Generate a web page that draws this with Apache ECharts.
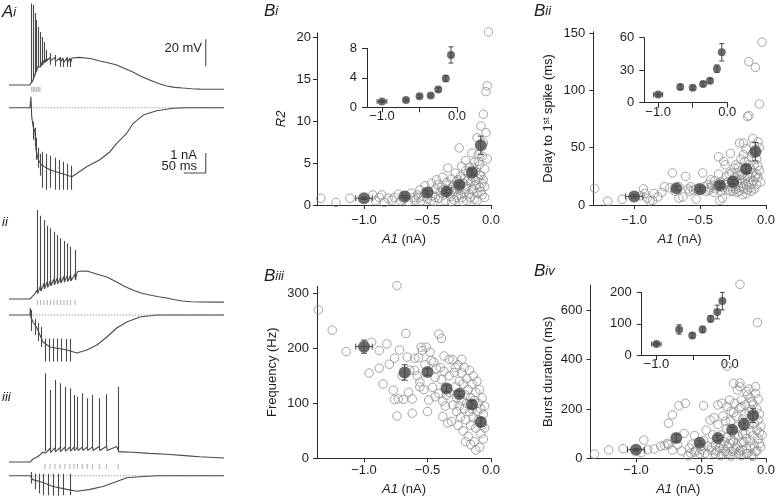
<!DOCTYPE html>
<html><head><meta charset="utf-8">
<script src="https://cdn.jsdelivr.net/npm/echarts@6/dist/echarts.min.js"></script>
<style>html,body{margin:0;padding:0;background:#fff}#c{width:778px;height:501px}</style>
</head><body><div id="c"></div>
<script>
const F = "'Liberation Sans', Arial, Helvetica, sans-serif";
const AX = '#2a2a2a', TX = '#1e1e1e', TR = '#4a4a4a', OPEN = '#8f8f8f', FILL = '#474747', MARK = '#9a9a9a';

// ================= A: recordings (time ms, membrane potential mV, current nA) =================
const aiV = [[0,-65],[47,-65],[50,-64.5],[51.6,-63],[53,-63.5],[55.2,-61],[56.5,-61.3],[59,-57],[60.5,-57.6],[62.9,-54],[64.2,-55.4],[66.6,-51],[68,-52.4],[70.4,-50],[71.8,-51.7],[75,-48],[76.4,-50.2],[79.5,-46.5],[81,-48.7],[85.6,-45],[87,-47],[93,-44.5],[94.5,-47],[104.5,-44.5],[106,-47.5],[115.8,-45],[117.3,-48],[122.7,-45],[124.2,-48.5],[131.7,-45],[133.2,-48.5],[138.5,-45],[140,-48.5],[143,-45],[160,-44.5],[185,-45.3],[206.6,-47.2],[225,-48.5],[245,-50.2],[262,-52.6],[281.5,-55.4],[300,-58.5],[320,-61.3],[340,-63.8],[358.7,-65.7],[377,-66.7],[395,-67.2],[415,-67.7],[433.6,-68],[460,-68.1],[489,-68.1]];
const aiSpikes = [[51.6,-63.5,-4.5],[55.2,-61.3,-5.7],[59,-57.6,-11.7],[62.9,-55.4,-16.9],[66.6,-52.4,-22],[70.4,-51.7,-25.7],[75,-50.2,-29.4],[79.5,-48.7,-33.1],[85.6,-48,-39.1],[93,-50,-41.3],[104.5,-51,-42.8],[115.8,-51.5,-44.3],[122.7,-51.7,-45.5],[131.7,-51.7,-44.3],[138.5,-51.7,-45.5]];
const aiMarks = [51.6,55.2,59,62.9,66.6,70.4];
const aiI = [[0,0],[47.7,0],[49,0.1],[50,0.55],[51.6,-0.45],[55,-0.95],[59,-1.2],[61.3,-2.1],[66.6,-2.6],[74,-2.87],[93,-3.1],[143,-3.45],[176.6,-2.95],[206.6,-2.6],[229.7,-2.2],[245,-1.78],[267.6,-1.28],[282.7,-0.78],[305.4,-0.37],[335.8,-0.15],[373.6,-0.03],[400,0],[489,0]];
const aiIArt = [[55.2,-0.7,-1.6],[59,-1.0,-1.9],[62.9,-1.5,-2.6],[66.6,-2.0,-3.0],[70.4,-2.3,-3.4],[76.6,-2.2,-4.0],[85.7,-2.3,-4.1],[94.8,-2.4,-4.0],[104.6,-2.5,-4.1],[114.4,-2.6,-4.1],[123.5,-2.7,-4.1],[133.5,-2.8,-4.1],[141,-2.9,-4.1]];

const iiV = [[0,-65],[47.7,-65],[52.3,-63.5],[59,-61],[63.6,-58.5],[65.5,-60.8],[71.9,-55],[73,-59],[79.5,-53.5],[80.7,-57.5],[86.9,-52.2],[88.1,-56.3],[94.6,-51],[95.8,-55.2],[102.2,-50.2],[103.4,-54.5],[109.7,-49.5],[110.9,-53.7],[117.4,-48.8],[118.6,-53],[125,-48.2],[126.2,-52.5],[132.5,-47.7],[133.7,-52],[140.2,-47.2],[141.4,-51.5],[150,-46.5],[151.2,-51],[155,-45],[160,-44.5],[177,-44.3],[190,-45.5],[206.6,-47.2],[222.5,-48.7],[245,-52.4],[262,-55.5],[281.5,-58.3],[300,-60.5],[320,-62],[340,-63.3],[358.7,-64.3],[377,-65.5],[395,-66.5],[415,-67],[433.6,-67.2],[489,-67.3]];
const iiSpikes = [[64.3,-60.8,0.9],[71.9,-59,-3.3],[79.5,-57.5,-6.5],[86.9,-56.3,-10.7],[94.6,-55.2,-12.6],[102.2,-54.5,-15.1],[109.7,-53.7,-17.6],[117.4,-53,-20],[125,-52.5,-22],[132.5,-52,-23.7],[140.2,-51.5,-26.3],[150,-51,-28.7]];
const iiMarks = [64.3,71.9,79.5,86.9,94.6,102.2,109.7,117.4,125,132.5,140.2,150];
const iiI = [[0,0],[47.7,0],[48.5,0.35],[49.5,-0.1],[54.5,-0.35],[63.6,-0.65],[70.4,-1],[77.3,-1.35],[93,-1.6],[131.8,-1.75],[154.5,-1.9],[177,-1.75],[200,-1.5],[222.5,-1.1],[245,-0.65],[268,-0.35],[297.4,-0.1],[336,0],[489,0]];
const iiIArt = [[51.6,0.25,-0.8],[59.1,-0.2,-1.0],[66.6,-0.4,-1.3],[74.4,-0.6,-1.6],[81.9,-1.17,-2.33],[91.6,-1.17,-2.33],[100.7,-1.17,-2.33],[109.8,-1.17,-2.33],[119.8,-1.17,-2.33],[129.6,-1.2,-2.33],[138.7,-1.2,-2.33]];

const iiiV = [[0,-65],[47.7,-65],[54.5,-62.8],[63.6,-61.3],[70.4,-59.8],[77.3,-57.6],[81.8,-56.5],[83,-58.5],[93.2,-55],[94.4,-58],[104.6,-54.5],[105.8,-57.5],[115.9,-54.3],[117.1,-57.3],[127.3,-54],[128.5,-57],[138.6,-54],[139.8,-57],[147.7,-54],[148.9,-56.5],[156,-54],[157.2,-56.5],[166.5,-54],[167.7,-56.5],[177.8,-54],[179,-56.5],[190,-53.8],[191.2,-56.5],[205.3,-53.5],[206.5,-56.5],[222,-53.3],[223.2,-56.5],[245,-53.5],[248.5,-53.5],[249.7,-57.5],[260,-57.5],[281.5,-57.8],[320,-58.6],[358.7,-59.3],[400,-60.3],[433.6,-61.1],[489,-62]];
const iiiSpikes = [[81.8,-57,0.7],[93.2,-56,-11.7],[104.6,-55.5,-4.3],[115.9,-55,-6.7],[127.3,-55,-9.2],[138.6,-55,-10.4],[147.7,-54.5,-15.4],[156,-54.5,-16.7],[166.5,-54.5,-14.1],[177.8,-54.5,-17.8],[190,-54.5,-15.4],[205.3,-54.5,-17.8],[222,-54,-14.9],[248.5,-57,-9.2]];
const iiiMarks = [81.8,93.2,104.6,115.9,127.3,138.6,147.7,156,166.5,177.8,190,205.3,222,248.5];
const iiiI = [[0,0],[47.7,0],[50,0.1],[54.5,-0.2],[77.3,-0.35],[100,-0.55],[131.8,-0.7],[154.5,-0.8],[184,-0.7],[213.7,-0.55],[245,-0.3],[268,-0.1],[297.4,-0.05],[336,0],[489,0]];
const iiiIArt = [[51.6,0.2,-0.4],[59.1,0.1,-0.7],[68.9,0.1,-0.9],[78,0.1,-1.0],[89.4,0.1,-1.0],[100.7,0.1,-1.03],[112.1,0.1,-1.03],[123.5,0.1,-1.0],[138.6,0.1,-1.0]];

const scaleBar = {mV: 20, ms: 50, nA: 1};

// ================= B: A1 dependence =================
const meanA1 = [-1.0,-0.68,-0.5,-0.35,-0.25,-0.15,-0.08];
const meanA1iv = [-1.0,-0.69,-0.51,-0.37,-0.26,-0.17,-0.1];
const meanA1Err = [0.065,0,0,0,0,0,0];
const biR2 = [0.8,1.0,1.5,1.6,2.4,3.9,7.1];
const biR2Err = [0.15,0.15,0.2,0.2,0.25,0.4,1.1];
const biiDelay = [7.5,14.5,13.7,17.3,20.3,31.3,46.5];
const biiDelayErr = [1.5,2,1.5,2,2,3.5,8];
const biiiFreq = [203,156,157,127,117,98,66];
const biiiFreqErr = [12,14,6,6,5,7,8];
const bivDur = [35,82,63,82,116,138,173];
const bivDurErr = [5,15,8,10,10,22,28];

const biPts = [[-1.34,0.8],[-1.22,0.3],[-1.11,0.8],[-0.93,1.2],[-0.91,0.5],[-0.88,0.9],[-0.86,1.2],[-0.84,0.3],[-0.81,0.8],[-0.78,0.6],[-0.76,0.9],[-0.73,1.3],[-0.71,0.5],[-0.69,0.7],[-0.67,1.1],[-0.65,0.4],[-0.63,1.4],[-0.61,0.9],[-0.6,0.6],[-0.58,1.2],[-0.57,0.9],[-0.56,1.8],[-0.55,0.5],[-0.53,1.0],[-0.52,2.3],[-0.52,1.4],[-0.5,0.7],[-0.49,1.6],[-0.47,2.6],[-0.47,0.5],[-0.46,1.1],[-0.45,0.4],[-0.44,1.9],[-0.44,0.9],[-0.43,3.0],[-0.42,2.4],[-0.41,0.8],[-0.4,1.5],[-0.39,2.1],[-0.38,3.3],[-0.38,1.8],[-0.37,1.2],[-0.36,0.5],[-0.35,2.7],[-0.35,1.6],[-0.34,4.4],[-0.33,1.9],[-0.33,2.4],[-0.32,1.0],[-0.31,3.1],[-0.31,0.4],[-0.3,2.3],[-0.29,0.6],[-0.29,1.6],[-0.28,3.8],[-0.28,2.0],[-0.27,2.8],[-0.27,0.9],[-0.26,1.2],[-0.26,3.0],[-0.25,6.8],[-0.25,2.0],[-0.24,3.4],[-0.24,1.3],[-0.23,0.9],[-0.23,4.6],[-0.22,2.6],[-0.22,0.4],[-0.21,1.5],[-0.21,3.1],[-0.2,5.3],[-0.2,1.9],[-0.2,4.1],[-0.19,0.5],[-0.19,2.2],[-0.18,3.8],[-0.18,2.9],[-0.17,1.3],[-0.17,4.5],[-0.16,2.8],[-0.16,0.9],[-0.16,3.6],[-0.15,6.2],[-0.15,1.8],[-0.14,3.3],[-0.14,1.9],[-0.14,4.4],[-0.13,0.7],[-0.13,5.1],[-0.12,2.4],[-0.12,4.0],[-0.12,2.9],[-0.11,8.0],[-0.11,1.4],[-0.11,0.5],[-0.1,3.1],[-0.1,6.0],[-0.1,5.2],[-0.09,2.1],[-0.09,4.8],[-0.09,3.6],[-0.08,9.4],[-0.08,3.5],[-0.08,1.6],[-0.07,5.8],[-0.07,1.2],[-0.07,2.6],[-0.06,10.8],[-0.06,3.0],[-0.06,7.4],[-0.05,4.3],[-0.05,2.2],[-0.05,0.9],[-0.04,8.6],[-0.04,13.5],[-0.03,14.2],[-0.03,5.5],[-0.02,20.6]];

const biiPts = [[-1.30,14.5],[-1.20,3.5],[-1.09,5],[-0.95,8],[-0.93,14],[-0.92,10],[-0.9,6],[-0.88,3.5],[-0.86,4],[-0.85,10],[-0.82,7],[-0.79,11],[-0.77,16],[-0.73,15],[-0.71,28],[-0.69,12],[-0.66,16],[-0.66,6],[-0.63,7],[-0.61,25],[-0.59,14],[-0.58,12],[-0.57,16],[-0.55,13],[-0.53,5],[-0.53,14],[-0.51,15],[-0.49,13],[-0.48,28],[-0.47,16],[-0.45,12],[-0.44,18],[-0.43,15],[-0.43,13],[-0.42,22],[-0.41,17],[-0.4,11],[-0.39,21],[-0.38,14],[-0.37,16],[-0.36,42],[-0.36,27],[-0.35,4],[-0.35,20],[-0.34,12],[-0.33,6],[-0.33,15],[-0.32,38],[-0.31,35],[-0.31,18],[-0.30,25],[-0.3,18],[-0.29,13],[-0.29,20],[-0.28,27],[-0.28,16],[-0.27,45],[-0.27,12],[-0.26,16],[-0.26,21],[-0.26,28],[-0.25,22],[-0.25,12],[-0.24,32],[-0.24,18],[-0.23,24],[-0.23,14],[-0.23,35],[-0.22,20],[-0.22,28],[-0.22,11],[-0.21,16],[-0.21,33],[-0.20,54],[-0.20,22],[-0.20,12],[-0.19,16],[-0.19,26],[-0.19,40],[-0.18,27],[-0.18,19],[-0.18,9],[-0.17,44],[-0.17,54],[-0.17,14],[-0.16,23],[-0.16,32],[-0.16,38],[-0.15,49],[-0.15,18],[-0.15,10],[-0.14,77],[-0.14,25],[-0.14,13],[-0.13,125],[-0.13,78],[-0.13,20],[-0.13,35],[-0.12,15],[-0.12,32],[-0.12,24],[-0.11,42],[-0.11,18],[-0.11,12],[-0.10,58],[-0.10,21],[-0.10,28],[-0.1,45],[-0.09,52],[-0.09,14],[-0.09,35],[-0.08,120],[-0.08,25],[-0.08,48],[-0.07,27],[-0.07,40],[-0.07,18],[-0.06,34],[-0.06,24],[-0.06,55],[-0.05,88],[-0.05,50],[-0.05,30],[-0.04,20],[-0.03,142]];

const biiiPts = [[-1.36,270],[-1.25,233],[-1.14,194],[-0.96,155],[-0.94,211],[-0.88,196],[-0.88,164],[-0.85,135],[-0.82,208],[-0.80,171],[-0.77,124],[-0.76,182],[-0.76,107],[-0.74,314],[-0.74,77],[-0.72,197],[-0.73,108],[-0.7,150],[-0.67,227],[-0.69,107],[-0.66,184],[-0.65,120],[-0.64,160],[-0.62,108],[-0.62,82],[-0.60,182],[-0.60,160],[-0.58,150],[-0.57,183],[-0.56,139],[-0.56,130],[-0.55,202],[-0.54,196],[-0.53,125],[-0.52,170],[-0.51,202],[-0.49,106],[-0.50,85],[-0.48,193],[-0.47,178],[-0.46,129],[-0.45,175],[-0.44,112],[-0.44,147],[-0.43,163],[-0.41,226],[-0.41,118],[-0.39,218],[-0.40,165],[-0.39,143],[-0.38,104],[-0.38,76],[-0.37,186],[-0.37,158],[-0.36,95],[-0.35,115],[-0.34,64],[-0.33,180],[-0.33,150],[-0.33,120],[-0.30,179],[-0.31,67],[-0.30,97],[-0.29,156],[-0.28,130],[-0.28,165],[-0.27,110],[-0.27,85],[-0.26,170],[-0.26,60],[-0.25,140],[-0.25,95],[-0.24,120],[-0.24,75],[-0.23,155],[-0.23,105],[-0.23,180],[-0.22,135],[-0.22,50],[-0.21,90],[-0.21,165],[-0.20,115],[-0.20,70],[-0.2,30],[-0.19,145],[-0.19,100],[-0.18,125],[-0.18,40],[-0.17,85],[-0.17,160],[-0.16,110],[-0.16,60],[-0.16,25],[-0.15,135],[-0.15,90],[-0.14,75],[-0.14,150],[-0.13,105],[-0.13,30],[-0.12,120],[-0.12,55],[-0.12,15],[-0.11,85],[-0.11,140],[-0.10,70],[-0.10,100],[-0.09,20],[-0.09,125],[-0.08,45],[-0.08,90],[-0.07,60],[-0.07,110],[-0.06,35],[-0.06,80],[-0.05,55],[-0.05,95]];

const bivPts = [[-1.32,17],[-1.21,34],[-1.10,39],[-0.96,23],[-0.94,74],[-0.91,35],[-0.86,38],[-0.81,49],[-0.78,52],[-0.76,60],[-0.75,142],[-0.75,55],[-0.72,176],[-0.72,33],[-0.68,55],[-0.67,213],[-0.65,30],[-0.63,101],[-0.62,223],[-0.6,10],[-0.59,42],[-0.58,21],[-0.57,57],[-0.55,92],[-0.55,25],[-0.54,33],[-0.51,20],[-0.5,48],[-0.5,35],[-0.48,213],[-0.48,73],[-0.47,20],[-0.46,114],[-0.45,50],[-0.45,15],[-0.43,155],[-0.42,33],[-0.42,45],[-0.41,95],[-0.40,164],[-0.39,19],[-0.39,55],[-0.38,30],[-0.37,137],[-0.37,216],[-0.36,41],[-0.35,95],[-0.35,10],[-0.35,60],[-0.34,19],[-0.34,223],[-0.33,172],[-0.33,40],[-0.32,66],[-0.31,27],[-0.31,150],[-0.30,120],[-0.30,210],[-0.3,20],[-0.3,85],[-0.30,374],[-0.29,46],[-0.28,236],[-0.28,60],[-0.27,152],[-0.27,74],[-0.27,8],[-0.27,190],[-0.26,27],[-0.25,185],[-0.25,35],[-0.25,70],[-0.25,304],[-0.24,95],[-0.24,223],[-0.23,42],[-0.23,15],[-0.23,170],[-0.22,277],[-0.22,128],[-0.22,50],[-0.21,19],[-0.21,90],[-0.20,305],[-0.20,205],[-0.2,30],[-0.2,290],[-0.20,705],[-0.19,64],[-0.19,236],[-0.19,10],[-0.19,210],[-0.18,159],[-0.18,34],[-0.18,100],[-0.17,65],[-0.16,216],[-0.16,100],[-0.16,180],[-0.15,19],[-0.15,40],[-0.15,80],[-0.15,270],[-0.14,257],[-0.14,20],[-0.13,281],[-0.13,137],[-0.13,190],[-0.12,46],[-0.12,70],[-0.12,110],[-0.12,245],[-0.11,196],[-0.11,230],[-0.11,10],[-0.10,91],[-0.10,8],[-0.1,220],[-0.09,172],[-0.09,50],[-0.09,140],[-0.08,263],[-0.08,27],[-0.08,290],[-0.07,115],[-0.07,30],[-0.07,200],[-0.066,550],[-0.06,155],[-0.06,80],[-0.06,240],[-0.05,104],[-0.05,60],[-0.05,180],[-0.04,47],[-0.04,130],[-0.03,95]];

const xTicks = [-1, -0.5, 0], xInsetLabels = [-1, 0];

// ================= build =================
const grids = [], xAxes = [], yAxes = [], series = [];
function grid(l, t, w, h) { grids.push({left: l, top: t, width: w, height: h}); return grids.length - 1; }
function hidden(gi, x0, x1, y0, y1) {
  xAxes.push({gridIndex: gi, type: 'value', min: x0, max: x1, show: false});
  yAxes.push({gridIndex: gi, type: 'value', min: y0, max: y1, show: false});
}
function trace(gi, data) { series.push({type: 'line', xAxisIndex: gi, yAxisIndex: gi, data, symbol: 'none', showSymbol: false, lineStyle: {color: TR, width: 1.1}, silent: true, z: 3}); }
function segs(gi, arr) { series.push({type: 'lines', coordinateSystem: 'cartesian2d', xAxisIndex: gi, yAxisIndex: gi, data: arr.map(s => ({coords: [[s[0], s[1]], [s[0], s[2]]]})), lineStyle: {color: TR, width: 1.1, opacity: 1}, silent: true, z: 3}); }
function marks(gi, times, level) { series.push({type: 'scatter', xAxisIndex: gi, yAxisIndex: gi, data: times.map(t => [t, level]), symbol: 'rect', symbolSize: [1, 5], itemStyle: {color: MARK}, silent: true, clip: false}); }
function zero(gi) { series.push({type: 'line', xAxisIndex: gi, yAxisIndex: gi, data: [[47, 0], [489, 0]], symbol: 'none', lineStyle: {color: '#a0a0a0', width: 1, type: [1.5, 1.5]}, silent: true, z: 2}); }

const gAiV = grid(9, 0, 215, 99.9); hidden(gAiV, 0, 489, -76, -2);
const gAiI = grid(9, 87.7, 215, 110); hidden(gAiI, 0, 489, -4.5, 1);
const gIiV = grid(9, 204.5, 215, 109.35); hidden(gIiV, 0, 489, -76, 5);
const gIiI = grid(9, 303, 215, 64); hidden(gIiI, 0, 489, -2.6, 0.6);
const gIiiV = grid(9, 367.5, 215, 109.35); hidden(gIiiV, 0, 489, -76, 5);
const gIiiI = grid(9, 468, 215, 34); hidden(gIiiI, 0, 489, -1.3, 0.4);

zero(gAiI); zero(gIiI); zero(gIiiI);
trace(gAiV, aiV); segs(gAiV, aiSpikes); marks(gAiV, aiMarks, -68.3);
trace(gAiI, aiI); segs(gAiI, aiIArt);
trace(gIiV, iiV); segs(gIiV, iiSpikes); marks(gIiV, iiMarks, -67.6);
trace(gIiI, iiI); segs(gIiI, iiIArt);
trace(gIiiV, iiiV); segs(gIiiV, iiiSpikes); marks(gIiiV, iiiMarks, -68.3);
trace(gIiiI, iiiI); segs(gIiiI, iiiIArt);
const sbT = 447.5, sbV0 = -51, sbI0 = -3.265;
trace(gAiV, [[sbT, sbV0], [sbT, sbV0 + scaleBar.mV]]);
trace(gAiI, [[sbT - scaleBar.ms, sbI0], [sbT, sbI0], [sbT, sbI0 + scaleBar.nA]]);

function fmtX(v) { return (v < 0 ? '\u2212' : '') + Math.abs(v).toFixed(1); }
const nameStyle = {fontSize: 13, color: TX, fontFamily: F, rich: {i: {fontSize: 13, fontStyle: 'italic', color: TX, fontFamily: F}, s: {fontSize: 8.5, color: TX, fontFamily: F, verticalAlign: 'top', lineHeight: 11}}};
function axes(gi, xr, yr, yTicks, o) {
  xAxes.push({gridIndex: gi, type: 'value', min: xr[0], max: xr[1],
    axisLine: {show: true, onZero: false, lineStyle: {color: AX, width: 1}},
    axisTick: {show: true, length: o.tick, customValues: xTicks, lineStyle: {color: AX, width: 1}},
    axisLabel: {show: true, customValues: o.inset ? xInsetLabels : xTicks, formatter: fmtX, fontSize: 13, color: TX, fontFamily: F, margin: o.xm},
    splitLine: {show: false}, name: o.xname || '', nameLocation: 'middle', nameGap: o.xg || 0, nameTextStyle: nameStyle});
  yAxes.push({gridIndex: gi, type: 'value', min: yr[0], max: yr[1],
    axisLine: {show: true, onZero: false, lineStyle: {color: AX, width: 1}},
    axisTick: {show: true, length: o.tick, customValues: yTicks, lineStyle: {color: AX, width: 1}},
    axisLabel: {show: true, customValues: yTicks, formatter: v => String(v), fontSize: 13, color: TX, fontFamily: F, margin: o.ym},
    splitLine: {show: false}, name: o.yname || '', nameLocation: 'middle', nameGap: o.yg || 0, nameTextStyle: Object.assign({}, nameStyle, o.yItalic ? {fontStyle: 'italic'} : {})});
}
function cloud(gi, pts) { series.push({type: 'scatter', xAxisIndex: gi, yAxisIndex: gi, data: pts, symbol: 'circle', symbolSize: 8.5, itemStyle: {color: 'rgba(255,255,255,0)', borderColor: OPEN, borderWidth: 1}, clip: false, silent: true, z: 2}); }
function errRender(cap) {
  return function (params, api) {
    const x = api.value(0), y = api.value(1), ex = api.value(2), ey = api.value(3);
    const st = {stroke: FILL, lineWidth: 1}, ch = [];
    if (ex > 0) {
      const a = api.coord([x - ex, y]), b = api.coord([x + ex, y]);
      ch.push({type: 'line', shape: {x1: a[0], y1: a[1], x2: b[0], y2: b[1]}, style: st});
      ch.push({type: 'line', shape: {x1: a[0], y1: a[1] - cap, x2: a[0], y2: a[1] + cap}, style: st});
      ch.push({type: 'line', shape: {x1: b[0], y1: b[1] - cap, x2: b[0], y2: b[1] + cap}, style: st});
    }
    if (ey > 0) {
      const a = api.coord([x, y - ey]), b = api.coord([x, y + ey]);
      ch.push({type: 'line', shape: {x1: a[0], y1: a[1], x2: b[0], y2: b[1]}, style: st});
      ch.push({type: 'line', shape: {x1: a[0] - cap, y1: a[1], x2: a[0] + cap, y2: a[1]}, style: st});
      ch.push({type: 'line', shape: {x1: b[0] - cap, y1: b[1], x2: b[0] + cap, y2: b[1]}, style: st});
    }
    return {type: 'group', children: ch};
  };
}
function means(gi, xs, ys, exs, eys, size, cap) {
  const d = xs.map((x, i) => [x, ys[i], exs[i], eys[i]]);
  series.push({type: 'custom', xAxisIndex: gi, yAxisIndex: gi, data: d, renderItem: errRender(cap), encode: {x: 0, y: 1}, clip: false, silent: true, z: 4});
  series.push({type: 'scatter', xAxisIndex: gi, yAxisIndex: gi, data: d.map(p => [p[0], p[1]]), symbol: 'circle', symbolSize: size, itemStyle: {color: FILL}, clip: false, silent: true, z: 5});
}
const A1name = '{i|A1} (nA)';

const gBi = grid(317, 32.8, 174, 172.2);
axes(gBi, [-1.37, 0], [0, 20.5], [0, 5, 10, 15, 20], {tick: 4, xm: 9, ym: 6, xname: A1name, xg: 28, yname: 'R2', yg: 29, yItalic: true});
cloud(gBi, biPts); means(gBi, meanA1, biR2, meanA1Err, biR2Err, 12, 3);
const gBiIn = grid(367, 48.3, 90, 59);
axes(gBiIn, [-1.2, 0], [0, 8], [0, 4, 8], {tick: 5, xm: 3, ym: 10, inset: true});
means(gBiIn, meanA1, biR2, meanA1Err, biR2Err, 8, 2.5);

const gBii = grid(593.3, 31.8, 175.5, 173.2);
axes(gBii, [-1.31, 0], [0, 151], [0, 50, 100, 150], {tick: 4, xm: 9, ym: 8, xname: A1name, xg: 28, yname: 'Delay to 1{s|st} spike (ms)', yg: 38});
cloud(gBii, biiPts); means(gBii, meanA1, biiDelay, meanA1Err, biiDelayErr, 12, 3);
const gBiiIn = grid(644.3, 37.7, 83, 65);
axes(gBiiIn, [-1.2, 0], [0, 60], [0, 30, 60], {tick: 5, xm: 3, ym: 10, inset: true});
means(gBiiIn, meanA1, biiDelay, meanA1Err, biiDelayErr, 8, 2.5);

const gBiii = grid(317, 286.2, 174, 172.1);
axes(gBiii, [-1.37, 0], [0, 313], [0, 100, 200, 300], {tick: 4, xm: 6, ym: 8, xname: A1name, xg: 25, yname: 'Frequency (Hz)', yg: 38});
cloud(gBiii, biiiPts); means(gBiii, meanA1, biiiFreq, meanA1Err, biiiFreqErr, 12, 3);

const gBiv = grid(590.5, 285.1, 179.5, 173.2);
axes(gBiv, [-1.35, 0], [0, 702], [0, 200, 400, 600], {tick: 4, xm: 6, ym: 8, xname: A1name, xg: 25, yname: 'Burst duration (ms)', yg: 36});
cloud(gBiv, bivPts); means(gBiv, meanA1iv, bivDur, meanA1Err, bivDurErr, 12, 3);
const gBivIn = grid(641.7, 292.7, 88, 62.3);
axes(gBivIn, [-1.2, 0], [0, 200], [0, 100, 200], {tick: 5, xm: 3, ym: 10, inset: true});
means(gBivIn, meanA1iv, bivDur, meanA1Err, bivDurErr, 8, 2.5);

const rich = {a: {fontSize: 17, fontStyle: 'italic', fontFamily: F, fill: TX}, b: {fontSize: 13, fontStyle: 'italic', fontFamily: F, fill: TX}};
function ptxt(t, x, y) { return {type: 'text', x, y, silent: true, style: {text: t, rich, verticalAlign: 'middle', align: 'left'}}; }
function stxt(t, x, y) { return {type: 'text', x, y, silent: true, style: {text: t, fontSize: 13, fontFamily: F, fill: TX, align: 'right', verticalAlign: 'middle'}}; }
const graphic = [
  ptxt('{a|A}{b|i}', 2, 12), ptxt('{b|ii}', 2, 222.5), ptxt('{b|iii}', 2, 397.5),
  ptxt('{a|B}{b|i}', 264, 11), ptxt('{a|B}{b|ii}', 534, 11.5), ptxt('{a|B}{b|iii}', 264, 276), ptxt('{a|B}{b|iv}', 534, 271.5),
  stxt('20 mV', 202, 48), stxt('1 nA', 197, 155), stxt('50 ms', 197, 166)
];

const chart = echarts.init(document.getElementById('c'), null, {renderer: 'canvas'});
chart.setOption({animation: false, backgroundColor: '#fff', grid: grids, xAxis: xAxes, yAxis: yAxes, series, graphic});
</script></body></html>
